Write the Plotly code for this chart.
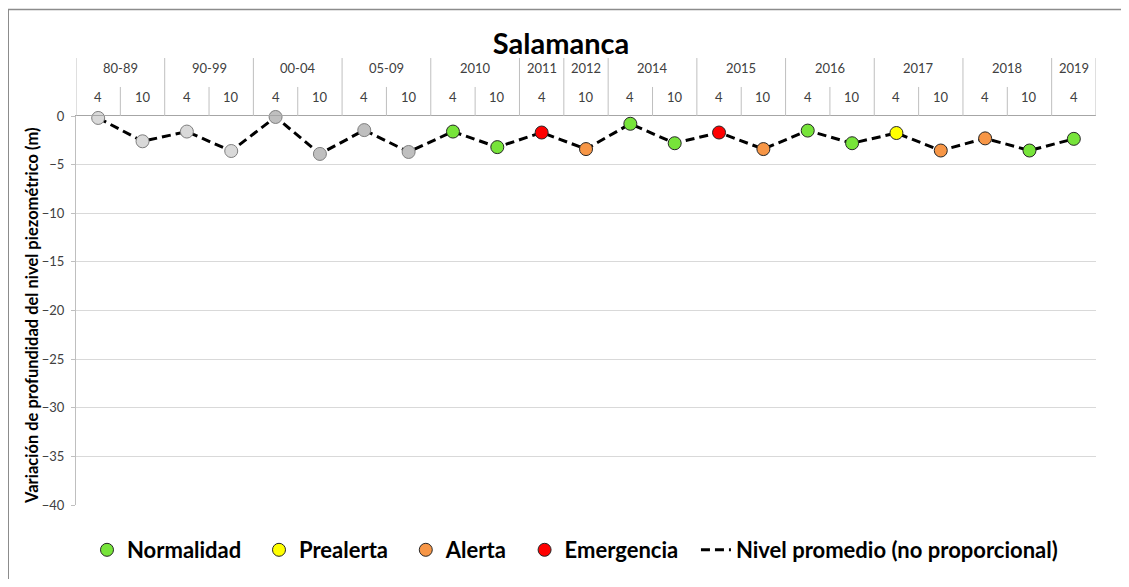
import plotly.graph_objects as go

# ---------------- data ----------------
groups = ["80-89", "90-99", "00-04", "05-09", "2010", "2011", "2012",
          "2014", "2015", "2016", "2017", "2018", "2019"]
group_sizes = [2, 2, 2, 2, 2, 1, 1, 2, 2, 2, 2, 2, 1]
months = ["4", "10", "4", "10", "4", "10", "4", "10", "4", "10", "4", "10",
          "4", "10", "4", "10", "4", "10", "4", "10", "4", "10", "4"]
values = [-0.2, -2.6, -1.6, -3.6, -0.1, -3.9, -1.45, -3.7,
          -1.6, -3.2, -1.7, -3.4, -0.8, -2.8, -1.7, -3.4,
          -1.5, -2.8, -1.75, -3.55, -2.3, -3.55, -2.35]
status = ["hist1"] * 4 + ["hist2"] * 4 + [
    "Normalidad", "Normalidad", "Emergencia", "Alerta",
    "Normalidad", "Normalidad", "Emergencia", "Alerta",
    "Normalidad", "Normalidad", "Prealerta", "Alerta",
    "Alerta", "Normalidad", "Normalidad"]
y_ticks = [0, -5, -10, -15, -20, -25, -30, -35, -40]

legend_status = ["Normalidad", "Prealerta", "Alerta", "Emergencia"]
status_colors = {
    "hist1": "#D9D9D9", "hist2": "#BFBFBF",
    "Normalidad": "#77E43A", "Prealerta": "#FFFF00",
    "Alerta": "#F79646", "Emergencia": "#FF0000",
}
line_name = "Nivel promedio (no proporcional)"
title = "Salamanca"
y_title = "Variación de profundidad del nivel piezométrico (m)"

FONT = "Lato"
n = len(values)
xs = list(range(n))

W, H = 1121, 571
ML, MT, PW, PH = 68, 108, 1020, 389

fig = go.Figure()

# dashed average line
fig.add_trace(go.Scatter(
    x=xs, y=values, mode="lines", name="<b>%s</b>" % line_name,
    line=dict(color="black", width=3, dash="9px,5px"),
    cliponaxis=False, legendrank=1000, hoverinfo="skip"))

# gray historic markers
for st in ["hist1", "hist2"]:
    idx = [i for i, s in enumerate(status) if s == st]
    fig.add_trace(go.Scatter(
        x=idx, y=[values[i] for i in idx], mode="markers", showlegend=False,
        marker=dict(size=13, color=status_colors[st],
                    line=dict(color="#7F7F7F", width=1)),
        cliponaxis=False))

for r, st in enumerate(legend_status):
    idx = [i for i, s in enumerate(status) if s == st]
    fig.add_trace(go.Scatter(
        x=idx, y=[values[i] for i in idx], mode="markers",
        name="<b>%s</b>\u2007" % st,
        marker=dict(size=13, color=status_colors[st],
                    line=dict(color="#262626", width=1)),
        cliponaxis=False, legendrank=r + 1))

# ---------------- top category header ----------------
sep_color = "#BFBFBF"
y_axis_top = 1.0
y_sub_top = 1.0746
y_grp_top = 1.149
y_sub_lab = 1.0488
y_grp_lab = 1.1234

shapes = []
annotations = []
pos = 0
boundaries = [-0.5]
for g, sz in zip(groups, group_sizes):
    center = pos + (sz - 1) / 2
    annotations.append(dict(x=center, y=y_grp_lab, xref="x", yref="paper",
                            text=g, showarrow=False, yanchor="middle",
                            font=dict(family=FONT, size=13, color="#404040")))
    for k in range(1, sz):
        shapes.append(dict(type="line", xref="x", yref="paper",
                           x0=pos + k - 0.5, x1=pos + k - 0.5,
                           y0=y_axis_top, y1=y_sub_top,
                           line=dict(color=sep_color, width=1)))
    pos += sz
    boundaries.append(pos - 0.5)

for b in boundaries:
    shapes.append(dict(type="line", xref="x", yref="paper",
                       x0=b, x1=b, y0=y_axis_top, y1=y_grp_top,
                       line=dict(color=sep_color, width=1)))

for i, m in enumerate(months):
    annotations.append(dict(x=i, y=y_sub_lab, xref="x", yref="paper",
                            text=m, showarrow=False, yanchor="middle",
                            font=dict(family=FONT, size=13, color="#404040")))

# y-axis title
annotations.append(dict(x=(32 - 76) / PW, y=(505 - 316) / PH, xref="paper",
                        yref="paper", text="<b>%s</b>" % y_title,
                        textangle=-90, showarrow=False, xanchor="center",
                        yanchor="middle",
                        font=dict(family=FONT, size=16.5, color="black")))

# outer frame (left and top edges visible)
fx = -ML / PW
fy = 1 + (MT - 1.5) / PH
shapes.append(dict(type="line", xref="paper", yref="paper",
                   x0=fx, x1=fx, y0=fy, y1=-0.4,
                   line=dict(color="#8C8C8C", width=2)))
shapes.append(dict(type="line", xref="paper", yref="paper",
                   x0=fx, x1=1.05, y0=fy, y1=fy,
                   line=dict(color="#8C8C8C", width=1.5)))

fig.update_layout(
    width=W, height=H,
    margin=dict(l=ML, r=W - ML - PW, t=MT, b=H - MT - PH, autoexpand=False),
    paper_bgcolor="white", plot_bgcolor="white",
    font=dict(family=FONT, color="#262626"),
    title=dict(text="<b>%s</b>" % title, x=(561 - 8) / W, xref="container",
               y=1 - 36 / H, yref="container", xanchor="center",
               yanchor="middle", font=dict(family=FONT, size=29, color="black")),
    showlegend=True,
    legend=dict(orientation="h", x=(575 - 8) / W, xref="container",
                xanchor="center", y=1 - 542 / H, yref="container",
                yanchor="middle", traceorder="normal",
                font=dict(family=FONT, size=22, color="black"),
                itemwidth=30, tracegroupgap=0),
    shapes=shapes, annotations=annotations,
)

fig.update_xaxes(range=[-0.5, n - 0.5], side="top", showticklabels=False,
                 showgrid=False, zeroline=False, showline=True,
                 linecolor="#A6A6A6", linewidth=1, ticks="", fixedrange=True)
fig.update_yaxes(range=[-40, 0], tickvals=y_ticks, showgrid=True,
                 gridcolor="#D9D9D9", gridwidth=1, zeroline=False,
                 showline=True, linecolor="#BFBFBF", linewidth=1,
                 ticks="outside", ticklen=4, tickcolor="#BFBFBF",
                 ticklabelstandoff=4,
                 tickfont=dict(family=FONT, size=13, color="#404040"))

fig.write_html("out.html")
